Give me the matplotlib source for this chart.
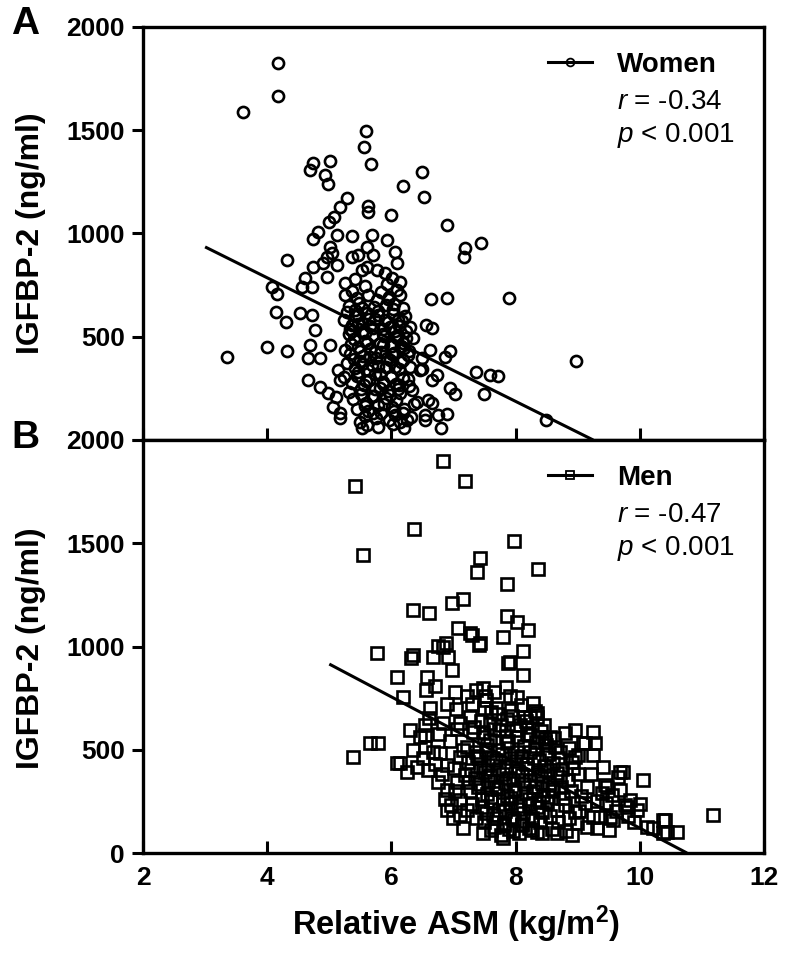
import matplotlib
matplotlib.use('Agg')
import matplotlib.pyplot as plt
from matplotlib.lines import Line2D

plt.rcParams['font.family'] = ['Liberation Sans', 'DejaVu Sans']
plt.rcParams['mathtext.fontset'] = 'custom'
plt.rcParams['mathtext.rm'] = 'Liberation Sans'
plt.rcParams['mathtext.it'] = 'Liberation Sans:italic'
plt.rcParams['mathtext.bf'] = 'Liberation Sans:bold'

# Women: relative ASM (kg/m2) vs IGFBP-2 (ng/ml)
women_asm = [3.35, 3.61, 4.17, 4.17, 4.00, 4.08, 4.15, 4.14, 4.30, 4.32, 4.32, 4.69, 4.74, 5.01, 4.93, 4.98,
             5.59, 5.56, 5.67, 5.63, 5.63, 5.28, 5.17, 6.00, 6.19, 6.49, 6.52, 6.90, 7.19, 7.17, 7.44,
             6.64, 6.90, 7.89, 8.97, 6.56, 6.65, 6.94, 7.36, 7.59, 7.72, 7.49, 6.94, 7.02, 8.49, 6.80,
             6.62, 6.86, 6.73, 6.54, 6.90, 6.65, 6.49,
             4.53, 4.72, 4.77, 4.69, 4.66, 4.85, 5.01, 4.66, 4.85, 4.98, 5.11, 5.06, 5.17, 5.17, 5.17,
             5.14, 5.49, 5.53,
             5.08, 5.00, 4.82, 4.74, 5.12, 5.37, 5.69, 5.93, 5.01, 5.04, 4.96, 4.90, 5.12, 5.37, 5.46,
             5.61, 5.70, 6.06, 6.09, 5.61, 5.77, 5.90, 4.74, 4.61, 4.96, 4.56, 4.72, 5.25, 6.14, 6.09,
             6.14, 6.19, 6.30, 6.19, 6.35, 6.49, 6.46, 6.30, 6.65, 6.33, 6.41, 6.59, 6.75, 6.54, 6.19, 6.25,
             5.25, 5.36, 5.44, 5.57, 5.63, 5.77, 5.84, 5.96, 6.04, 5.31, 5.42, 5.48, 5.61, 5.72, 5.79,
             5.92, 6.02, 6.11, 6.22,
             5.24, 5.37, 5.46, 5.53, 5.66, 5.74, 5.87, 5.94, 6.06, 6.13,
             5.32, 5.39, 5.52, 5.58, 5.71, 5.82, 5.88, 6.01, 6.09, 6.21,
             5.26, 5.34, 5.47, 5.54, 5.66, 5.76, 5.83, 5.97, 6.04, 6.16, 6.27,
             5.29, 5.41, 5.49, 5.62, 5.68, 5.81, 5.91, 5.99, 6.12, 6.18,
             5.23, 5.36, 5.44, 5.56, 5.64, 5.73, 5.86, 5.94, 6.07, 6.14, 6.29,
             5.31, 5.38, 5.51, 5.59, 5.72, 5.79, 5.92, 6.01, 6.08, 6.21, 6.36,
             5.44, 5.57, 5.63, 5.76, 5.84, 5.96, 6.06, 6.14, 6.31,
             5.61, 5.79, 6.02, 6.21, 5.42, 5.52, 5.93, 6.01,
             5.28, 5.41, 5.53, 5.64, 5.78, 5.89, 6.03, 6.17, 5.33, 5.47, 5.58, 5.71, 5.86, 5.98, 6.11,
             6.24, 5.35, 5.49, 5.61, 5.74, 5.87, 6.01, 6.15, 6.28, 5.39, 5.52, 5.66, 5.79, 5.93, 6.06,
             6.19, 5.46, 5.59, 5.73, 5.86, 5.99, 6.12, 6.26, 5.51, 5.68, 5.82, 5.97, 6.11, 5.58, 5.71,
             5.88, 6.04, 5.36, 5.94, 6.23]
women_igfbp = [400, 1590, 1825, 1665, 450, 740, 705, 620, 571, 431, 872, 1307, 1341, 1351, 1283, 1240,
               1497, 1420, 1336, 1133, 1104, 1170, 1128, 1089, 1230, 1298, 1177, 1041, 930, 886, 954,
               683, 688, 688, 383, 557, 542, 431, 329, 315, 310, 223, 252, 223, 97, 58,
               436, 402, 315, 121, 126, 179, 344,
               615, 605, 533, 460, 397, 397, 460, 291, 257, 228, 208, 160, 131, 107, 291,
               339, 87, 58,
               1080, 1056, 1007, 973, 993, 988, 993, 969, 935, 906, 886, 857, 847, 886, 896,
               935, 896, 910, 857, 838, 823, 809, 838, 784, 789, 741, 741, 760, 765, 726,
               702, 639, 547, 470, 494, 397, 339, 353, 291, 242, 184, 194, 121, 97, 131, 97,
               700, 722, 688, 745, 703, 676, 718, 694, 660, 648, 628, 662, 617, 643, 603,
               652, 608, 582, 598,
               582, 557, 603, 566, 552, 584, 538, 571, 527, 553,
               512, 488, 523, 477, 508, 468, 502, 457, 493, 447,
               438, 418, 452, 407, 443, 398, 428, 388, 422, 376, 412,
               372, 348, 383, 337, 362, 318, 352, 307, 343, 298,
               303, 277, 312, 268, 292, 247, 283, 238, 272, 228, 262,
               232, 198, 222, 178, 212, 168, 203, 158, 192, 148, 172,
               152, 118, 142, 108, 132, 98, 122, 88, 112,
               74, 63, 78, 58, 778, 822, 757, 782,
               622, 598, 638, 588, 627, 582, 633, 577, 536, 562, 518, 541, 512, 548, 507,
               529, 463, 432, 471, 425, 462, 418, 456, 433, 391, 367, 402, 358, 396, 352,
               387, 329, 287, 318, 272, 311, 267, 296, 247, 213, 253, 219, 246, 163, 129,
               172, 138, 527, 683, 492]

# Men
men_asm = [6.83, 7.19, 6.36, 7.97, 7.43, 7.38, 8.36, 7.86, 6.35, 6.61, 6.98, 7.15, 7.86, 8.02, 8.20,
           7.80, 7.43, 7.27, 7.07, 6.83, 6.35, 6.67, 6.98, 8.12, 7.91, 8.12,
           8.96, 9.25, 9.12, 9.28, 9.25, 8.96, 10.05, 9.68, 11.18, 10.37, 10.21, 10.44, 10.60, 9.84,
           9.79, 9.47, 9.36, 9.57,
           5.41, 5.54, 5.77, 5.38, 5.66, 5.78, 6.09, 6.09,
           6.32, 6.75, 6.88, 7.30, 7.41, 6.91, 6.57, 6.70, 6.56, 6.19, 7.02, 7.47, 6.62, 7.88, 8.02,
           8.28, 8.35,
           6.14, 6.25, 6.35, 6.54, 6.67, 6.78, 6.54, 6.54, 6.83, 7.10, 6.90, 7.10, 6.75, 6.90, 7.06,
           7.23, 6.90, 6.99, 7.15, 7.47, 7.80, 7.22, 7.10,
           9.08, 9.00, 8.92, 9.73, 9.65, 9.44, 9.39, 9.68, 9.76, 9.95, 9.52, 10.11, 10.41, 10.37,
           8.36, 8.55, 8.23, 8.35, 9.15, 9.25, 9.15, 8.99, 8.43, 8.67,
           7.30, 7.52, 7.68, 7.91, 8.09,
           7.26, 7.44, 7.61, 7.76, 7.94, 8.16, 8.46,
           7.31, 7.49, 7.66, 7.84, 8.01, 8.19, 8.41, 8.62, 8.79,
           7.21, 7.36, 7.54, 7.71, 7.86, 8.02, 8.14, 8.31, 8.49, 8.71, 8.86,
           7.24, 7.41, 7.56, 7.69, 7.84, 8.01, 8.16, 8.29, 8.46, 8.61, 8.74, 8.91,
           7.19, 7.34, 7.51, 7.66, 7.79, 7.96, 8.11, 8.24, 8.41, 8.54, 8.71, 8.84, 9.01,
           7.26, 7.39, 7.54, 7.71, 7.86, 7.99, 8.16, 8.31, 8.44, 8.61, 8.76, 8.89, 9.06,
           7.29, 7.46, 7.61, 7.74, 7.91, 8.04, 8.21, 8.34, 8.51, 8.66, 8.79, 8.96, 9.11,
           7.36, 7.49, 7.64, 7.81, 7.94, 8.11, 8.26, 8.39, 8.56, 8.69, 8.86, 9.02,
           7.61, 7.76, 7.89, 8.06, 8.21, 8.34, 8.59, 8.81, 8.91,
           6.30, 6.46, 6.61, 6.76, 6.94, 7.06, 6.41, 6.59, 6.81, 7.01, 6.86, 7.02, 6.96, 7.11,
           6.51, 6.71, 7.16, 7.04, 6.89, 7.21, 7.36, 7.51, 7.66, 7.84,
           9.21, 9.41, 9.31, 9.56, 9.61, 9.81, 9.91, 9.31, 9.51, 10.01, 9.46,
           7.33, 7.47, 7.58, 7.73, 7.88, 8.03, 8.18, 8.33, 8.48, 8.63, 7.38, 7.53, 7.63, 7.78, 7.93,
           8.08, 8.23, 8.38, 8.53, 8.68, 7.28, 7.43, 7.59, 7.74, 7.89, 8.04, 8.19, 8.36, 8.51, 8.66,
           7.41, 7.56, 7.69, 7.83, 7.98, 8.13, 8.28, 8.43, 8.58, 8.73, 7.46, 7.61, 7.79, 7.92, 8.07,
           8.22, 8.37, 8.52, 7.53, 7.68, 7.83, 7.97, 8.12, 8.27, 8.42, 7.66, 7.81, 7.96, 8.11, 8.26,
           7.49, 7.71, 7.93, 8.14, 8.31, 7.58, 7.86, 8.07, 8.24, 8.48]
men_igfbp = [1898, 1801, 1569, 1511, 1429, 1361, 1375, 1303, 1177, 1162, 1211, 1230, 1148, 1119, 1080,
             1046, 1017, 1065, 1090, 998, 959, 949, 886, 978, 925, 862,
             596, 586, 533, 533, 475, 465, 354, 392, 184, 160, 121, 102, 102, 257,
             223, 320, 174, 160,
             1777, 1443, 969, 465, 533, 533, 852, 436,
             944, 1002, 1017, 1056, 1007, 949, 852, 809, 789, 755, 780, 799, 702, 920, 755,
             726, 678,
             436, 392, 499, 513, 489, 484, 620, 571, 630, 630, 426, 465, 344, 305, 344,
             344, 208, 169, 121, 97, 73, 208, 257,
             533, 475, 412, 392, 368, 329, 291, 305, 232, 208, 174, 126, 160, 97,
             562, 562, 659, 659, 320, 174, 126, 145, 97, 97,
             720, 740, 702, 760, 718,
             660, 638, 682, 618, 662, 641, 622,
             588, 561, 602, 568, 598, 578, 592, 558, 582,
             512, 488, 522, 498, 532, 488, 518, 502, 521, 489, 508,
             442, 458, 428, 452, 418, 448, 432, 462, 421, 438, 408, 442,
             378, 362, 392, 348, 382, 352, 378, 348, 372, 338, 368, 352, 382,
             302, 322, 288, 312, 278, 308, 292, 318, 282, 298, 268, 302, 278,
             238, 222, 252, 208, 242, 212, 238, 222, 248, 208, 232, 198, 242,
             172, 148, 182, 138, 168, 142, 172, 152, 178, 148, 168, 202,
             112, 88, 118, 96, 122, 102, 118, 108, 88,
             598, 562, 652, 578, 542, 602, 418, 402, 382, 412, 262, 298, 232, 182,
             458, 432, 498, 698, 722, 758, 788, 762, 778, 802,
             382, 418, 252, 282, 202, 178, 152, 122, 112, 238, 242,
             612, 586, 548, 596, 542, 563, 612, 538, 552, 512, 472, 498, 462, 478, 458,
             472, 488, 452, 478, 462, 402, 418, 378, 406, 362, 398, 412, 382, 402, 388,
             332, 348, 318, 338, 298, 332, 302, 338, 312, 318, 262, 272, 238, 268, 228,
             262, 248, 272, 192, 168, 202, 158, 192, 162, 198, 128, 142, 108, 138, 112,
             702, 672, 692, 658, 688, 632, 648, 622, 572, 538]

# regression lines (end points)
women_fit_x = [3.0, 9.25]
women_fit_y = [935, 0]
men_fit_x = [5.0, 10.76]
men_fit_y = [915, 0]

x_ticks = [2, 4, 6, 8, 10, 12]
y_ticks = [0, 500, 1000, 1500, 2000]

fig = plt.figure(figsize=(7.94, 9.63), dpi=100)
ax1 = fig.add_axes([0.1801, 0.5431, 0.7821, 0.4289])
ax2 = fig.add_axes([0.1801, 0.1142, 0.7821, 0.4289])

panels = [
    (ax1, women_asm, women_igfbp, women_fit_x, women_fit_y, 'o', 8.0, 'Women', '-0.34'),
    (ax2, men_asm, men_igfbp, men_fit_x, men_fit_y, 's', 9.0, 'Men', '-0.47'),
]

for ax, xs, ys, fx, fy, mk, ms, name, r in panels:
    ax.plot(xs, ys, linestyle='none', marker=mk, ms=ms, mfc='none', mec='black', mew=1.9)
    ax.plot(fx, fy, color='black', lw=2.2, solid_capstyle='butt')
    ax.set_xlim(2, 12)
    ax.set_ylim(0, 2000)
    ax.set_xticks(x_ticks)
    ax.set_yticks(y_ticks)
    for s in ax.spines.values():
        s.set_linewidth(2.4)
    ax.tick_params(axis='y', direction='out', length=8, width=2.2, pad=5, labelsize=19)
    ax.tick_params(axis='x', direction='in', length=9, width=2.2, pad=9, labelsize=19)
    for lab in ax.get_xticklabels() + ax.get_yticklabels():
        lab.set_fontweight('bold')

    handle = Line2D([], [], color='black', lw=2.2, marker=mk, ms=ms * 0.7,
                    mfc='none', mec='black', mew=1.3)
    leg = ax.legend([handle], [name], loc='upper left', bbox_to_anchor=(0.652, 0.94),
                    frameon=False, borderpad=0, borderaxespad=0, handlelength=1.6,
                    handletextpad=0.9, prop={'weight': 'bold', 'size': 20})
    ax.text(0.763, 0.818, r'$\it{r}$ = ' + r, transform=ax.transAxes,
            fontsize=20, ha='left', va='center')
    ax.text(0.763, 0.738, r'$\it{p}$ < 0.001', transform=ax.transAxes,
            fontsize=20, ha='left', va='center')

ax1.set_yticklabels(['', '500', '1000', '1500', '2000'], fontweight='bold')
ax1.tick_params(axis='x', labelbottom=False)

fig.text(31 / 794, 0.758, 'IGFBP-2 (ng/ml)', rotation=90, ha='center', va='center',
         fontsize=23, fontweight='bold')
fig.text(31 / 794, 0.327, 'IGFBP-2 (ng/ml)', rotation=90, ha='center', va='center',
         fontsize=23, fontweight='bold')
fig.text(456 / 794, 1 - 924 / 963, r'Relative ASM (kg/m$^{\mathbf{2}}$)', ha='center', va='center',
         fontsize=23.5, fontweight='bold')
fig.text(25 / 794, 1 - 24 / 963, 'A', ha='center', va='center', fontsize=28, fontweight='bold')
fig.text(25 / 794, 1 - 438 / 963, 'B', ha='center', va='center', fontsize=28, fontweight='bold')

fig.savefig('out.png', dpi=100)
